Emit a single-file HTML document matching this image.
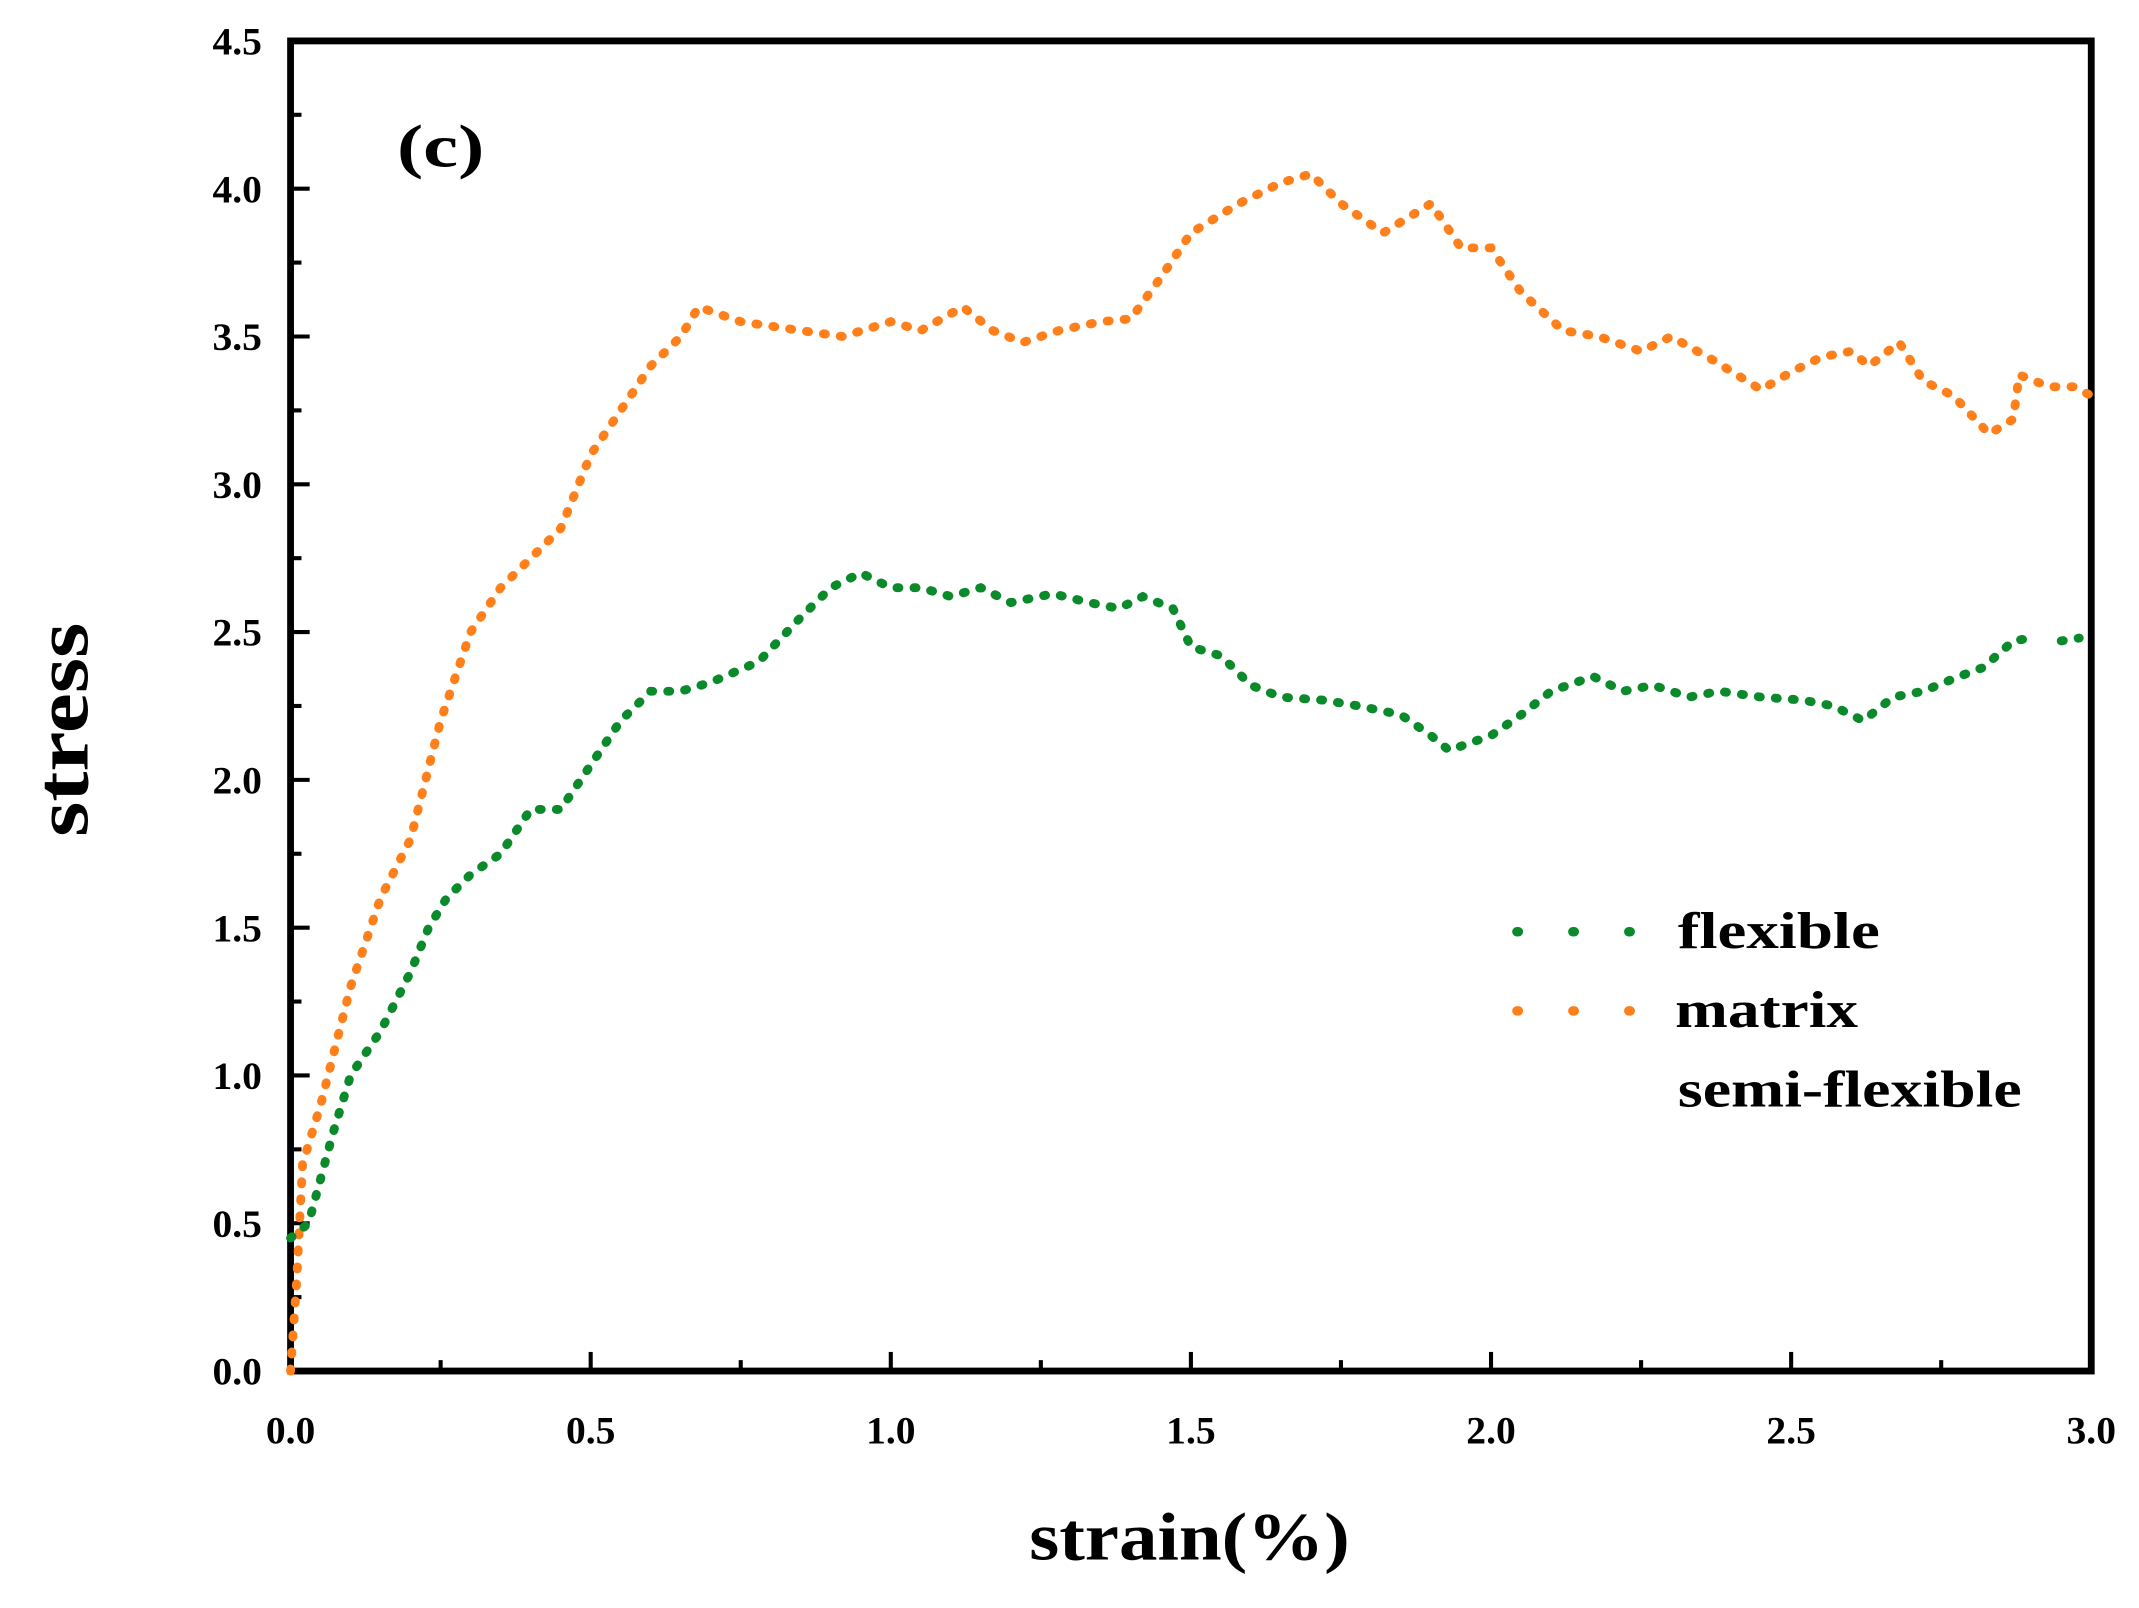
<!DOCTYPE html>
<html><head><meta charset="utf-8"><style>html,body{margin:0;padding:0;background:#fff}svg{display:block}</style></head>
<body>
<svg id="s" width="2139" height="1608" viewBox="0 0 1568 1178.7" preserveAspectRatio="none" xmlns="http://www.w3.org/2000/svg" font-family="Liberation Serif, serif" font-weight="bold">
<rect x="213" y="30" width="1320" height="975" fill="none" stroke="#000" stroke-width="5"/>
<g id="ticks" stroke="#000" stroke-width="3"></g>
<g font-size="29" text-anchor="end" id="yl"></g>
<g font-size="29" text-anchor="middle" id="xl"></g>
<text x="291" y="122" font-size="44" textLength="64" lengthAdjust="spacingAndGlyphs">(c)</text>
<text transform="translate(64,535) rotate(-90)" font-size="56" text-anchor="middle" textLength="157" lengthAdjust="spacingAndGlyphs">stress</text>
<text x="872" y="1143" font-size="50" text-anchor="middle" textLength="235" lengthAdjust="spacingAndGlyphs">strain(%)</text>
<g id="series" fill="none" stroke-linecap="round"></g>
<line x1="1112" y1="683" x2="1195" y2="683" stroke="#0a8a2a" stroke-width="7" stroke-linecap="round" stroke-dasharray="1 40"/>
<line x1="1112" y1="741" x2="1195" y2="741" stroke="#ff7f1a" stroke-width="7" stroke-linecap="round" stroke-dasharray="1 40"/>
<text x="1230" y="695" font-size="38" textLength="148" lengthAdjust="spacingAndGlyphs">flexible</text>
<text x="1228" y="753" font-size="38" textLength="134" lengthAdjust="spacingAndGlyphs">matrix</text>
<text x="1230" y="811" font-size="38" textLength="252" lengthAdjust="spacingAndGlyphs">semi-flexible</text>
</svg>
<script>
const NS="http://www.w3.org/2000/svg";
const X=v=>213+v*440, Y=v=>1005-v*216.67;
const t=document.getElementById('ticks'),yl=document.getElementById('yl'),xl=document.getElementById('xl');
function ln(p,x1,y1,x2,y2){const l=document.createElementNS(NS,'line');l.setAttribute('x1',x1);l.setAttribute('y1',y1);l.setAttribute('x2',x2);l.setAttribute('y2',y2);p.appendChild(l);}
function tx(p,x,y,s){const e=document.createElementNS(NS,'text');e.setAttribute('x',x);e.setAttribute('y',y);e.textContent=s;p.appendChild(e);}
for(let i=0;i<=18;i++){const v=i*0.25,y=Y(v);ln(t,213,y,213+(i%2?8:14),y);if(i%2==0)tx(yl,192,y+10,v.toFixed(1));}
for(let i=0;i<=12;i++){const v=i*0.25,x=X(v);ln(t,x,1005,x,1005-(i%2?8:14));if(i%2==0)tx(xl,x,1058,v.toFixed(1));}
const orange=[[0,0],[0.01,0.3],[0.02,0.7],[0.05,0.9],[0.1,1.3],[0.15,1.6],[0.2,1.8],[0.25,2.2],[0.3,2.5],[0.35,2.65],[0.4,2.75],[0.45,2.85],[0.5,3.1],[0.55,3.25],[0.6,3.4],[0.65,3.5],[0.68,3.6],[0.75,3.55],[0.85,3.52],[0.92,3.5],[1.0,3.55],[1.05,3.52],[1.12,3.6],[1.17,3.52],[1.22,3.48],[1.28,3.52],[1.35,3.55],[1.4,3.56],[1.45,3.7],[1.5,3.85],[1.58,3.95],[1.65,4.02],[1.7,4.05],[1.75,3.95],[1.82,3.85],[1.9,3.95],[1.95,3.8],[2.0,3.8],[2.05,3.65],[2.12,3.52],[2.18,3.5],[2.25,3.45],[2.3,3.5],[2.37,3.42],[2.45,3.32],[2.5,3.38],[2.55,3.43],[2.6,3.45],[2.63,3.4],[2.68,3.48],[2.72,3.35],[2.77,3.3],[2.83,3.17],[2.87,3.22],[2.88,3.37],[2.93,3.33],[2.97,3.33],[3.0,3.3]];
const green=[[0,0.45],[0.03,0.5],[0.07,0.8],[0.1,1.0],[0.15,1.15],[0.2,1.35],[0.23,1.5],[0.26,1.6],[0.3,1.68],[0.35,1.75],[0.4,1.9],[0.45,1.9],[0.5,2.05],[0.55,2.2],[0.6,2.3],[0.65,2.3],[0.7,2.33],[0.78,2.4],[0.85,2.55],[0.9,2.65],[0.95,2.7],[1.0,2.65],[1.05,2.65],[1.1,2.62],[1.15,2.65],[1.2,2.6],[1.27,2.63],[1.33,2.6],[1.38,2.58],[1.42,2.62],[1.47,2.58],[1.5,2.45],[1.55,2.42],[1.6,2.32],[1.65,2.28],[1.72,2.27],[1.78,2.25],[1.85,2.22],[1.9,2.15],[1.93,2.1],[2.0,2.15],[2.05,2.22],[2.1,2.3],[2.17,2.35],[2.22,2.3],[2.27,2.32],[2.33,2.28],[2.38,2.3],[2.45,2.28],[2.52,2.27],[2.57,2.25],[2.62,2.2],[2.67,2.28],[2.72,2.3],[2.78,2.35],[2.82,2.38],[2.87,2.47],[2.9,2.48]];
const g=document.getElementById('series');
function path(d,c){const p=document.createElementNS(NS,'path');p.setAttribute('d','M'+d.map(q=>X(q[0]).toFixed(1)+','+Y(q[1]).toFixed(1)).join('L'));p.setAttribute('stroke',c);p.setAttribute('stroke-width','6.5');p.setAttribute('stroke-dasharray','1.5 11');g.appendChild(p);}
path(orange,'#ff7f1a');path(green,'#0a8a2a');path([[2.95,2.47],[2.98,2.48]],'#0a8a2a');
</script>
</body></html>
